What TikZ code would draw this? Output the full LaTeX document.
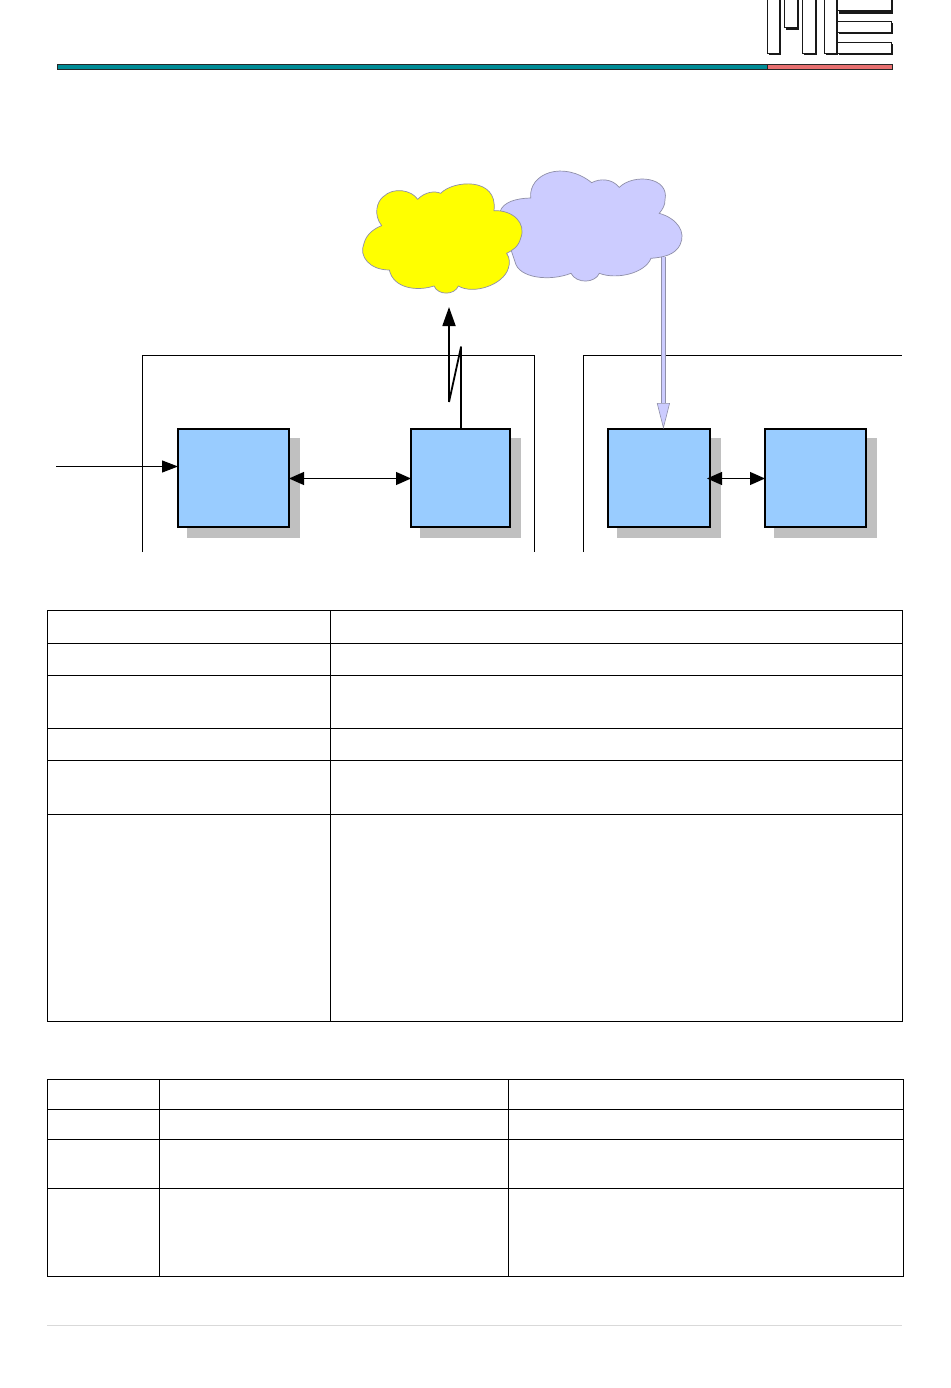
\documentclass[tikz,border=0pt]{standalone}
\usepackage{xcolor}
\usetikzlibrary{positioning,calc,arrows.meta,shadows}
\definecolor{boxblue}{HTML}{99CCFF}
\definecolor{cloudblue}{HTML}{CCCCFF}
\definecolor{cloudyellow}{HTML}{FFFF00}
\definecolor{cloudedge}{HTML}{8F8FA8}
\definecolor{shadowgray}{HTML}{C0C0C0}
\definecolor{barteal}{HTML}{008C96}
\definecolor{barsalmon}{HTML}{E87070}
\tikzset{blockbox/.style={draw, line width=2pt, fill=boxblue, inner sep=0pt, outer sep=0pt, minimum height=98pt,
	drop shadow={shadow xshift=10pt, shadow yshift=-10pt, draw=shadowgray, fill=shadowgray, opacity=1}}}
\tikzset{arr/.style={draw, line width=1.1pt, -{Triangle[length=16pt,width=12pt]}}}
\tikzset{arr2/.style={draw, line width=1.1pt, {Triangle[length=15pt,width=13pt]}-{Triangle[length=15pt,width=13pt]}}}
\tikzset{frameline/.style={draw, line width=1.2pt}}
\tikzset{tableline/.style={draw, line width=1.1pt}}
\tikzset{logobar/.style={draw=black!90, line width=1pt, fill=white}}
\tikzset{cloudshape/.style={draw=cloudedge, line width=.7pt}}
\begin{document}
\begin{tikzpicture}[x=1pt, y=-1pt]
	\path[use as bounding box, fill=white] (0,0) rectangle (950,1388);

	% logo and header rule
	\foreach \xa/\ya/\xb/\yb/\xs/\ys in {837/-5/891.5/10.5/893/13.7, 837/21.2/891.5/32.5/893/34.3, 837/42.8/891.5/53.5/893/55.3,
		767.5/-5/779.5/53.5/780.7/55.3, 784.8/-5/797.2/27.5/798.7/30, 802.8/-5/815.2/53.5/817/55.3, 824.8/-5/836.5/53.5/838.3/55.3} {
		\fill[black!90] (\xa+1.5,\ya+1.5) rectangle (\xs,\ys);
		\path[logobar] (\xa,\ya) rectangle (\xb,\yb);
	}
	\path[draw=black!85, line width=.8pt, fill=barteal] (57,64.5) rectangle (767.5,69.5);
	\path[draw=black!85, line width=.8pt, fill=barsalmon] (767.5,64.5) rectangle (892.5,69.5);

	% clouds, traced in 3x units
	\begin{scope}[shift={(350,160)}, x=.3333pt, y=-.3333pt]
		\path[cloudshape, fill=cloudblue] (450,155)
			.. controls (460,125) and (500,115) .. (542,114)
			.. controls (535,40) and (640,0) .. (725,68)
			.. controls (750,55) and (785,55) .. (808,82)
			.. controls (850,40) and (960,50) .. (945,120)
			.. controls (945,135) and (940,145) .. (928,160)
			.. controls (980,175) and (1010,215) .. (990,255)
			.. controls (975,285) and (940,292) .. (903,295)
			.. controls (885,340) and (800,360) .. (748,340)
			.. controls (735,370) and (680,372) .. (663,340)
			.. controls (600,365) and (505,355) .. (495,305)
			-- (485,275) -- cycle;
		\path[cloudshape, fill=cloudyellow] (203,118)
			.. controls (225,95) and (255,92) .. (272,100)
			.. controls (310,60) and (445,50) .. (432,152)
			.. controls (490,150) and (530,190) .. (512,235)
			.. controls (505,262) and (485,272) .. (470,280)
			.. controls (480,295) and (480,310) .. (475,325)
			.. controls (460,375) and (370,405) .. (325,378)
			.. controls (315,405) and (265,408) .. (252,378)
			.. controls (200,395) and (130,385) .. (118,330)
			.. controls (60,330) and (25,290) .. (42,250)
			.. controls (50,220) and (75,205) .. (95,197)
			.. controls (70,165) and (80,125) .. (100,110)
			.. controls (130,80) and (185,90) .. (203,118) -- cycle;
	\end{scope}

	% open frames
	\path[frameline] (142.5,552) -- (142.5,355.5) -- (534.5,355.5) -- (534.5,552);
	\path[frameline] (583.5,552) -- (583.5,355.5) -- (902,355.5);

	% blocks
	\node[blockbox, minimum width=111pt] (input) at (233.5,478) {};
	\node[blockbox, minimum width=99pt] (radio) at (460.5,478) {};
	\node[blockbox, minimum width=102pt] (receiver) at (659,478) {};
	\node[blockbox, minimum width=101pt] (output) at (815.5,478) {};

	\coordinate (feed) at (56,466.5);
	\coordinate (linkmid) at (350,478.5);
	\coordinate (zigtop) at (461,347);
	\coordinate (zigbot) at (449,402);
	\coordinate (sendtip) at (449,307);
	\coordinate (cloudout) at (663.4,257);

	\draw[arr] (feed) -- (input.west |- feed);
	\draw[arr2] (input.east |- linkmid) -- (radio.west |- linkmid);
	\draw[arr2, shorten <=-3pt] (receiver.east |- linkmid) -- (output.west |- linkmid);
	\draw[line width=1.8pt, line join=round] (radio.north -| zigtop) -- (zigtop) -- (zigbot);
	\draw[arr, line width=1.8pt, -{Triangle[length=19pt,width=13pt]}] (zigbot) -- (sendtip);
	\draw[draw=cloudedge, line width=.6pt, double=cloudblue, double distance=3.6pt,
		-{Triangle[length=26pt,width=13pt,fill=cloudblue]}] (cloudout) -- (cloudout |- receiver.north);

	% tables
	\path[tableline] (47.5,610.5) rectangle (902.5,1021.5);
	\path[tableline] (330.5,610.5) -- (330.5,1021.5);
	\foreach \rowy in {643.5, 675.5, 728.5, 760.5, 814.5}
		\path[tableline] (47.5,\rowy) -- (902.5,\rowy);

	\path[tableline] (47.5,1079.5) rectangle (903.5,1276.5);
	\foreach \colx in {159.5, 508.5}
		\path[tableline] (\colx,1079.5) -- (\colx,1276.5);
	\foreach \rowy in {1109.5, 1139.5, 1188.5}
		\path[tableline] (47.5,\rowy) -- (903.5,\rowy);

	% footer rule
	\draw[black!15, line width=1.2pt] (47,1325.5) -- (902,1325.5);
\end{tikzpicture}
\end{document}
